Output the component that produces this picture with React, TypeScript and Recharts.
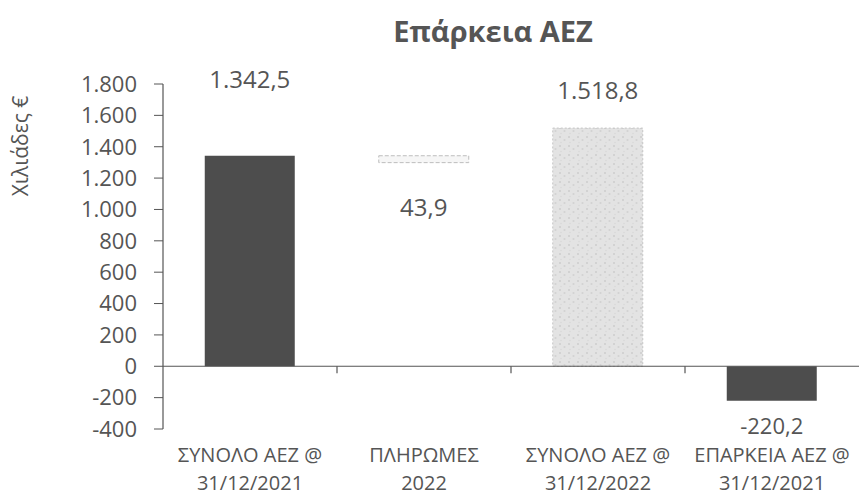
import React from "react";
import {
  BarChart,
  Bar,
  XAxis,
  YAxis,
  ReferenceLine,
  LabelList,
  Cell,
} from "recharts";

const categories = [
  "ΣΥΝΟΛΟ ΑΕΖ @\n31/12/2021",
  "ΠΛΗΡΩΜΕΣ\n2022",
  "ΣΥΝΟΛΟ ΑΕΖ @\n31/12/2022",
  "ΕΠΑΡΚΕΙΑ ΑΕΖ @\n31/12/2021",
];
const baseValues = [0, 1298.6, 0, 0];
const barValues = [1342.5, 43.9, 1518.8, -220.2];
const yTicks = [-400, -200, 0, 200, 400, 600, 800, 1000, 1200, 1400, 1600, 1800];

const barFills = ["#4d4d4d", "#f6f6f6", "url(#speckle)", "#4d4d4d"];
const barStrokes = ["none", "#bdbdbd", "#c4c4c4", "none"];
// where Excel had the data labels dragged to, relative to the bar end
const labelShift = [-74, 54, -36, 27];

const FONT = "'Open Sans', 'Noto Sans', sans-serif";
const TEXT = "#555555";

const data = categories.map((name, i) => ({
  name,
  base: baseValues[i],
  value: barValues[i],
}));

// greek number format: 1.342,5
function fmt(v: number, decimals = 1) {
  const neg = v < 0;
  const [int, dec] = Math.abs(v).toFixed(decimals).split(".");
  const grouped = int.replace(/\B(?=(\d{3})+(?!\d))/g, ".");
  return (neg ? "-" : "") + grouped + (dec ? "," + dec : "");
}

function CategoryTick(props: any) {
  const { x, y, payload } = props;
  const lines = String(payload.value).split("\n");
  return (
    <g transform={`translate(${x},${y})`}>
      {lines.map((line, i) => (
        <text
          key={i}
          x={0}
          y={25 + i * 28}
          textAnchor="middle"
          fill={TEXT}
          fontSize={20}
          fontFamily={FONT}
        >
          {line}
        </text>
      ))}
    </g>
  );
}

function ValueLabel(props: any) {
  const { x, y, width, height, index, value } = props;
  const top = Math.min(y, y + height);
  const bottom = Math.max(y, y + height);
  const anchor = barValues[index] < 0 ? bottom : top;
  return (
    <text
      x={x + width / 2}
      y={anchor + labelShift[index]}
      textAnchor="middle"
      dominantBaseline="middle"
      fill={TEXT}
      fontSize={index === 3 ? 22 : 24}
      fontFamily={FONT}
    >
      {fmt(value)}
    </text>
  );
}

export default function App() {
  return (
    <div style={{ position: "absolute", left: 0, top: 0, width: 859, height: 497, background: "#fff" }}>
      <div
        style={{
          position: "absolute",
          left: 0,
          top: 11,
          width: 986,
          textAlign: "center",
          fontFamily: FONT,
          fontWeight: 700,
          fontSize: 29,
          color: TEXT,
        }}
      >
        Επάρκεια ΑΕΖ
      </div>
      <div
        style={{
          position: "absolute",
          left: 20,
          top: 146,
          transform: "translate(-50%, -50%) rotate(-90deg)",
          whiteSpace: "nowrap",
          fontFamily: FONT,
          fontSize: 21,
          color: TEXT,
        }}
      >
        Χιλιάδες €
      </div>
      <BarChart
        width={859}
        height={497}
        data={data}
        margin={{ top: 84, right: 0, left: 0, bottom: 0 }}
        barCategoryGap="24%"
      >
        <defs>
          <pattern id="speckle" width="9" height="9" patternUnits="userSpaceOnUse">
            <rect width="9" height="9" fill="#e3e3e3" />
            <circle cx="2" cy="2" r="1" fill="#cdcdcd" />
            <circle cx="6.5" cy="5" r="1.1" fill="#d2d2d2" />
            <circle cx="3" cy="7.5" r="0.8" fill="#d8d8d8" />
          </pattern>
        </defs>
        <XAxis
          dataKey="name"
          axisLine={false}
          tickLine={false}
          height={68}
          interval={0}
          tick={<CategoryTick />}
        />
        <YAxis
          width={163}
          domain={[-400, 1800]}
          ticks={yTicks}
          interval={0}
          tickFormatter={(v: number) => fmt(v, 0)}
          axisLine={{ stroke: "#555555", strokeWidth: 1.2 }}
          tickLine={{ stroke: "#555555" }}
          tickSize={9}
          tickMargin={17}
          tick={{ fill: TEXT, fontSize: 22, fontFamily: FONT }}
        />
        <ReferenceLine y={0} stroke="#555555" strokeWidth={1.2} />
        {categories.slice(1).map((c) => (
          <ReferenceLine
            key={c}
            segment={[{ x: c, y: 0 }, { x: c, y: -45 }]}
            position="start"
            stroke="#555555"
            strokeWidth={1.2}
          />
        ))}
        <Bar dataKey="base" stackId="w" fill="transparent" isAnimationActive={false} />
        <Bar dataKey="value" stackId="w" isAnimationActive={false}>
          {data.map((_, i) => (
            <Cell
              key={i}
              fill={barFills[i]}
              stroke={barStrokes[i]}
              strokeDasharray={i === 1 ? "4 2" : i === 2 ? "2 2" : undefined}
            />
          ))}
          <LabelList dataKey="value" content={<ValueLabel />} />
        </Bar>
      </BarChart>
    </div>
  );
}
